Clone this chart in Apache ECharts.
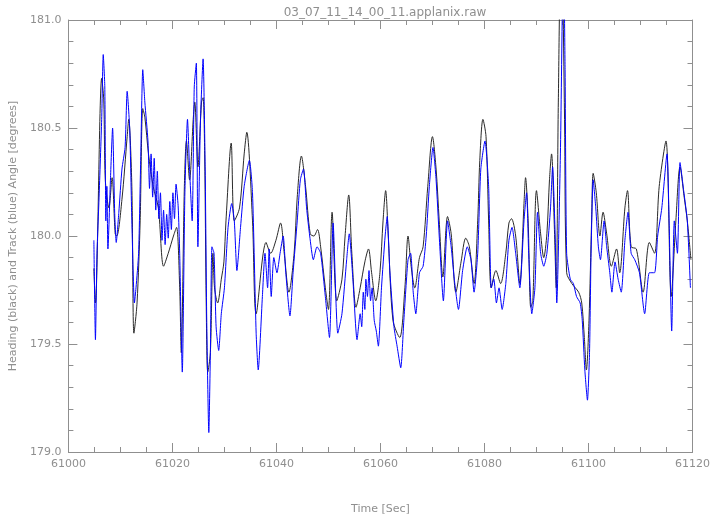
<!DOCTYPE html>
<html>
<head>
<meta charset="utf-8">
<script src="https://cdn.jsdelivr.net/npm/echarts@6/dist/echarts.min.js"></script>
<style>html,body{margin:0;padding:0;background:#fff}#c{width:713px;height:525px}</style>
</head>
<body>
<div id="c"></div>
<script>
const title = "03_07_11_14_00_11.applanix.raw";
const xName = "Time [Sec]";
const yName = "Heading (black) and Track (blue) Angle [degrees]";
const xTicks = [61000, 61020, 61040, 61060, 61080, 61100, 61120];
const yTicks = [179.0, 179.5, 180.0, 180.5, 181.0];

const headingT = [61004.9,61005.2,61006.4,61006.8,61007.1,61007.8,61008.4,61009.0,61009.3,61010.3,61011.3,61011.6,61012.2,61012.6,61013.2,61013.8,61014.3,61014.7,61015.4,61016.3,61017.3,61018.3,61019.2,61020.2,61020.8,61021.4,61021.7,61022.3,61022.7,61023.3,61024.0,61024.3,61024.9,61025.6,61025.9,61026.2,61026.5,61026.8,61027.3,61027.8,61028.1,61028.7,61029.4,61029.9,61030.3,61031.3,61031.9,61032.9,61033.8,61034.3,61035.4,61036.1,61038.0,61038.9,61039.9,61040.8,61041.5,61042.4,61043.4,61044.0,61044.8,61045.6,61046.5,61047.2,61047.9,61048.5,61049.4,61050.0,61050.7,61051.6,61052.6,61053.2,61053.9,61054.5,61055.3,61056.1,61057.0,61057.7,61058.3,61059.1,61059.9,61060.5,61061.0,61061.5,61062.4,61063.7,61064.7,61065.3,61065.9,61066.6,61067.5,61068.2,61069.1,61070.0,61070.7,61071.3,61072.0,61072.9,61073.6,61074.5,61075.5,61076.4,61077.1,61078.0,61078.7,61079.1,61079.7,61080.3,61080.8,61081.3,61082.2,61083.1,61084.1,61084.7,61085.2,61086.0,61086.8,61087.6,61087.9,61088.4,61088.9,61089.3,61090.0,61090.8,61091.4,61092.0,61092.5,61092.9,61093.4,61093.8,61094.2,61094.7,61095.0,61095.4,61095.8,61096.8,61098.1,61098.7,61099.2,61099.6,61100.1,61100.6,61100.9,61101.5,61102.2,61102.8,61103.5,61104.4,61105.4,61106.0,61107.0,61107.5,61108.2,61109.2,61110.5,61111.7,61112.7,61113.6,61114.9,61115.9,61116.8,61117.6,61118.4,61119.0,61119.7];
const headingV = [179.85,179.69,180.73,180.63,180.26,180.13,180.27,180.01,180.00,180.17,180.46,180.54,180.23,179.55,179.69,180.07,180.59,180.55,180.38,180.23,180.13,179.86,179.92,180.00,180.04,179.76,179.46,180.23,180.44,180.26,180.54,180.62,180.32,180.62,180.64,180.38,179.69,179.37,179.46,179.92,179.76,179.69,179.80,179.88,180.07,180.43,180.07,180.13,180.38,180.48,180.07,179.64,179.97,179.92,179.98,180.06,179.92,179.74,179.92,180.18,180.37,180.23,180.01,180.00,180.03,179.95,179.76,179.66,180.11,179.70,179.80,180.00,180.19,179.92,179.67,179.76,179.88,179.94,179.83,179.70,179.83,180.07,180.21,180.00,179.61,179.53,179.76,180.00,179.86,179.76,179.90,179.95,180.23,180.46,180.31,180.07,179.81,180.09,180.01,179.74,179.88,179.99,179.95,179.78,180.07,180.35,180.54,180.46,180.07,179.76,179.84,179.78,179.92,180.06,180.08,180.00,179.78,180.15,180.27,180.07,179.67,179.70,180.21,180.01,179.90,180.01,180.26,180.38,180.07,179.76,180.62,181.30,181.20,180.54,179.83,179.78,179.74,179.69,179.53,179.38,179.61,180.07,180.29,180.20,180.00,180.11,180.01,179.86,179.94,179.83,180.13,180.21,179.95,179.94,179.74,179.97,179.92,180.23,180.44,179.72,180.07,180.32,180.18,180.07,179.89];

const trackT = [61004.9,61005.2,61005.5,61005.9,61006.4,61006.7,61007.0,61007.2,61007.4,61007.6,61008.1,61008.5,61008.9,61009.2,61009.7,61010.3,61010.9,61011.3,61011.8,61012.2,61012.7,61013.0,61013.5,61013.9,61014.3,61014.7,61015.3,61015.6,61015.9,61016.2,61016.5,61016.8,61017.1,61017.4,61017.7,61018.0,61018.3,61018.6,61018.9,61019.2,61019.5,61019.8,61020.1,61020.4,61020.7,61021.1,61021.4,61021.9,61022.4,61022.9,61023.3,61023.8,61024.2,61024.6,61024.9,61025.4,61025.9,61026.3,61026.6,61027.0,61027.3,61027.6,61028.0,61028.4,61028.9,61029.4,61030.0,61030.7,61031.4,61031.9,61032.4,61033.1,61033.8,61034.8,61035.4,61036.1,61036.5,61037.3,61037.8,61038.3,61038.6,61039.0,61039.5,61040.1,61040.7,61041.3,61041.8,61042.6,61043.2,61044.0,61044.6,61045.2,61045.8,61046.4,61047.1,61047.8,61048.5,61049.4,61050.2,61050.9,61051.8,61052.6,61053.5,61054.0,61054.7,61055.5,61056.1,61056.4,61056.7,61057.0,61057.2,61057.5,61057.8,61058.1,61058.4,61058.8,61059.2,61059.6,61060.2,61060.9,61061.3,61061.8,61062.6,61063.2,61063.9,61064.5,61065.3,61065.8,61066.3,61066.8,61067.5,61068.2,61068.8,61069.4,61070.1,61070.7,61071.3,61072.1,61072.9,61073.6,61074.2,61075.0,61075.8,61076.7,61077.4,61078.0,61078.7,61079.3,61080.1,61080.8,61081.3,61081.8,61082.3,61082.8,61083.4,61084.1,61084.7,61085.3,61086.0,61086.8,61087.6,61088.1,61088.5,61089.1,61089.7,61090.2,61090.8,61091.4,61092.0,61092.7,61093.1,61093.6,61093.9,61094.6,61095.0,61095.2,61095.5,61095.8,61096.5,61097.1,61097.7,61098.4,61098.8,61099.3,61099.8,61100.2,61100.5,61100.9,61101.4,61101.9,61102.3,61103.0,61103.5,61104.1,61104.5,61105.1,61105.7,61106.3,61107.0,61107.6,61108.2,61108.9,61109.8,61110.8,61111.7,61112.7,61113.3,61114.1,61115.1,61115.5,61116.0,61116.5,61117.1,61117.6,61118.3,61119.0,61119.6];
const trackV = [179.98,179.52,179.92,180.18,180.54,180.84,180.69,180.07,180.23,179.94,180.27,180.50,180.11,179.97,180.11,180.31,180.41,180.67,180.49,180.07,179.69,179.76,179.92,180.35,180.77,180.62,180.44,180.22,180.38,180.18,180.36,180.12,180.30,180.08,180.20,179.98,180.12,179.96,180.10,179.99,180.16,180.03,180.20,180.08,180.24,180.14,179.92,179.37,180.20,180.54,180.31,180.07,180.69,180.80,179.95,180.54,180.82,180.31,179.61,179.09,179.46,179.95,179.92,179.58,179.47,179.64,179.76,180.04,180.15,180.07,179.84,180.04,180.23,180.35,180.20,179.55,179.38,179.72,179.92,179.76,179.94,179.72,179.90,179.83,179.92,180.00,179.83,179.63,179.83,180.07,180.26,180.31,180.13,180.00,179.89,179.95,179.92,179.72,179.53,180.06,179.55,179.64,179.89,180.01,179.80,179.52,179.64,179.58,179.74,179.66,179.80,179.72,179.84,179.70,179.76,179.61,179.56,179.49,179.76,180.00,180.09,179.84,179.58,179.49,179.39,179.61,179.89,179.92,179.74,179.64,179.83,179.86,180.00,180.23,180.41,180.26,180.00,179.70,180.07,179.95,179.80,179.66,179.84,179.95,179.89,179.74,179.92,180.31,180.44,180.23,179.76,179.80,179.69,179.76,179.66,179.78,179.98,180.04,179.92,179.76,180.07,180.20,179.92,179.64,179.76,180.11,179.92,179.86,179.92,180.13,180.32,180.00,179.69,180.38,181.10,181.30,180.77,179.92,179.80,179.78,179.72,179.69,179.61,179.38,179.24,179.46,179.92,180.26,180.13,179.95,179.89,180.07,179.95,179.83,179.74,179.88,179.80,179.74,179.98,180.11,179.92,179.89,179.83,179.64,179.83,179.83,180.00,180.13,180.38,180.07,179.56,180.07,179.92,180.34,180.21,180.07,179.76];

const heading = headingT.map((t, i) => [t, headingV[i]]);
const track = trackT.map((t, i) => [t, trackV[i]]);

const gray = '#8f8f8f';
const font = 'DejaVu Sans';
const chart = echarts.init(document.getElementById('c'), null, {renderer: 'canvas'});
const axisLine = {show: true, lineStyle: {color: gray, width: 1}};
const tick = {show: true, inside: true, length: 9, lineStyle: {color: gray}};
chart.setOption({
  animation: false,
  backgroundColor: '#fff',
  title: {text: title, left: 380, top: 2, textAlign: 'center',
    textStyle: {color: gray, fontSize: 12, fontWeight: 'normal', fontFamily: font}},
  grid: {left: 66, right: 18, top: 20, bottom: 73},
  xAxis: [{
    type: 'value', min: xTicks[0], max: xTicks[xTicks.length - 1], interval: 20,
    name: xName, nameLocation: 'middle', nameGap: 52,
    nameTextStyle: {color: gray, fontSize: 11, fontFamily: font},
    axisLine: axisLine, axisTick: tick,
    minorTick: {show: true, splitNumber: 4, length: 5, lineStyle: {color: gray}},
    axisLabel: {color: gray, fontSize: 11, fontFamily: font, margin: 7,
      formatter: v => String(v)},
    splitLine: {show: false}
  }, {
    type: 'value', position: 'top', min: xTicks[0], max: xTicks[xTicks.length - 1], interval: 20,
    axisLine: axisLine, axisTick: tick,
    minorTick: {show: true, splitNumber: 4, length: 5, lineStyle: {color: gray}},
    axisLabel: {show: false}, splitLine: {show: false}
  }],
  yAxis: [{
    type: 'value', min: yTicks[0], max: yTicks[yTicks.length - 1], interval: 0.5,
    name: yName, nameLocation: 'middle', nameGap: 46, nameRotate: 90,
    nameTextStyle: {color: gray, fontSize: 11, fontFamily: font},
    axisLine: axisLine, axisTick: tick,
    minorTick: {show: true, splitNumber: 5, length: 5, lineStyle: {color: gray}},
    axisLabel: {color: gray, fontSize: 11, fontFamily: font, margin: 7,
      formatter: v => v.toFixed(1)},
    splitLine: {show: false}
  }, {
    type: 'value', position: 'right', min: yTicks[0], max: yTicks[yTicks.length - 1], interval: 0.5,
    axisLine: axisLine, axisTick: tick,
    minorTick: {show: true, splitNumber: 5, length: 5, lineStyle: {color: gray}},
    axisLabel: {show: false}, splitLine: {show: false}
  }],
  series: [{
    name: 'Heading', type: 'line', data: heading, showSymbol: false, symbol: 'none',
    smooth: 0.3, clip: true, lineStyle: {color: '#2a2a2a', width: 1}, z: 2
  }, {
    name: 'Track', type: 'line', data: track, showSymbol: false, symbol: 'none',
    smooth: 0.2, clip: true, lineStyle: {color: '#0000ff', width: 1}, z: 3
  }]
});
</script>
</body>
</html>
